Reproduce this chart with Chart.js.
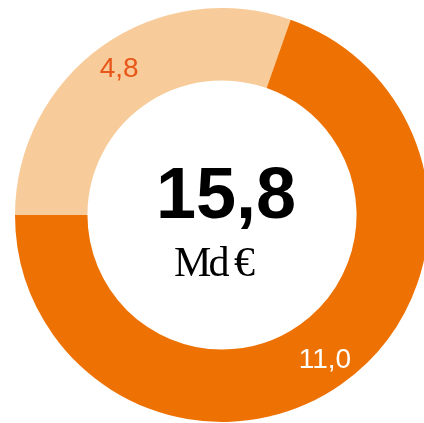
<!DOCTYPE html>
<html>
<head>
<meta charset="utf-8">
<script src="https://cdn.jsdelivr.net/npm/chart.js@4/dist/chart.umd.min.js"></script>
<style>
  html, body { margin: 0; padding: 0; background: #fff; overflow: hidden; }
  body { width: 424px; height: 423px; position: relative; }
  #wrap { position: absolute; left: 15px; top: 8px; width: 414px; height: 414px; }
</style>
</head>
<body>
<div id="wrap"><canvas id="budgetChart"></canvas></div>
<script>
// parts of the total, in Md €
const parts = ['Part A', 'Part B'];
const amounts = [4.8, 11.0];
const partColors = ['#f8cc9a', '#ee7203'];
const labelColors = ['#e8561a', '#ffffff'];
const totalText = '15,8';
const unitText = 'Md €';

function frNumber(v) {
    return v.toFixed(1).replace('.', ',');
}

// writes each value inside its ring segment
const segmentLabels = {
    id: 'segmentLabels',
    afterDatasetsDraw(chart) {
        const ctx = chart.ctx;
        const arcs = chart.getDatasetMeta(0).data;
        ctx.save();
        ctx.font = '28px "Liberation Sans", Arial, sans-serif';
        ctx.textAlign = 'center';
        ctx.textBaseline = 'middle';
        arcs.forEach((arc, i) => {
            const mid = (arc.startAngle + arc.endAngle) / 2;
            const r = arc.innerRadius + (arc.outerRadius - arc.innerRadius) * 0.6;
            ctx.fillStyle = labelColors[i];
            ctx.fillText(frNumber(amounts[i]), arc.x + Math.cos(mid) * r, arc.y + Math.sin(mid) * r);
        });
        ctx.restore();
    }
};

// total in the hole
const centerText = {
    id: 'centerText',
    afterDraw(chart) {
        const ctx = chart.ctx;
        const arc = chart.getDatasetMeta(0).data[0];
        ctx.save();
        ctx.textAlign = 'center';
        ctx.textBaseline = 'alphabetic';
        ctx.fillStyle = '#000';
        ctx.font = 'bold 72px "Liberation Sans", Arial, sans-serif';
        ctx.fillText(totalText, arc.x + 4, arc.y + 3);
        ctx.font = '42px "Liberation Serif", "Times New Roman", serif';
        ctx.letterSpacing = '-3px';
        ctx.fillText(unitText, arc.x - 9, arc.y + 61);
        ctx.restore();
    }
};

new Chart(document.getElementById('budgetChart'), {
    type: 'doughnut',
    data: {
        labels: parts,
        datasets: [{
            data: amounts,
            backgroundColor: partColors,
            borderWidth: 0,
            hoverOffset: 0
        }]
    },
    options: {
        responsive: true,
        maintainAspectRatio: false,
        animation: false,
        cutout: '65%',
        rotation: -90,
        layout: { padding: 0 },
        plugins: {
            legend: { display: false },
            tooltip: { enabled: false }
        }
    },
    plugins: [segmentLabels, centerText]
});
</script>
</body>
</html>
